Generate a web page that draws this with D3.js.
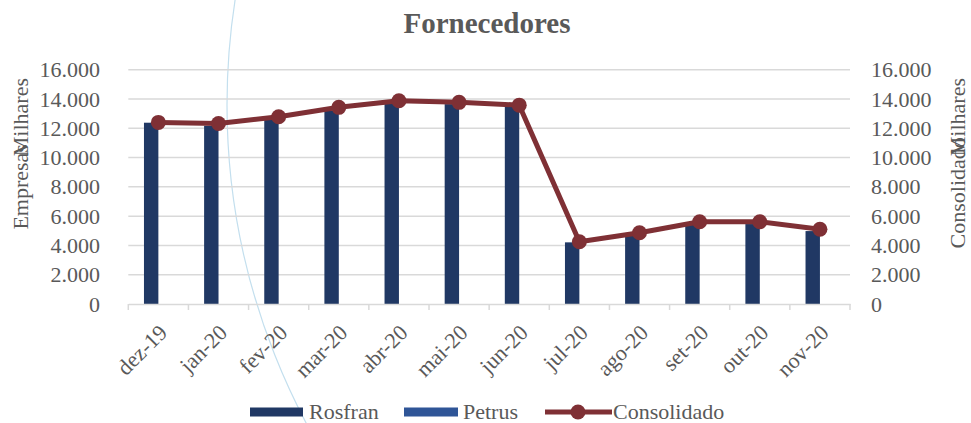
<!DOCTYPE html>
<html><head><meta charset="utf-8">
<script src="https://cdn.jsdelivr.net/npm/d3@7"></script>
<style>body{margin:0;background:#fff}svg{display:block}text{font-family:"Liberation Serif","DejaVu Serif",serif;fill:#595959}</style>
</head><body><svg id="c" width="971" height="423"></svg>
<script>
const categories = ["dez-19","jan-20","fev-20","mar-20","abr-20","mai-20","jun-20","jul-20","ago-20","set-20","out-20","nov-20"];
const rosfran = [12380,12170,12600,13200,13700,13650,13470,4210,4710,5550,5460,4980];
const petrus = [0,0,0,0,0,0,0,0,0,0,0,0];
const consolidado = [12400,12330,12790,13430,13880,13770,13580,4250,4870,5620,5620,5100];
const yTicks = [0,2000,4000,6000,8000,10000,12000,14000,16000];
const seriesNames = ["Rosfran","Petrus"];
const colors = {Rosfran:"#203864", Petrus:"#2F5597", Consolidado:"#7F3035"};

const svg = d3.select("#c");
const L = 128.3, R = 850, T = 69.7, B = 304;
const FS = 22;
const x0 = d3.scaleBand().domain(categories).range([L,R]).padding(0);
const x1 = d3.scaleBand().domain(seriesNames).range([0,x0.bandwidth()]).paddingInner(0).paddingOuter(1.088);
const y = d3.scaleLinear().domain([0,16000]).range([B,T]);
const fmt = v => d3.format(",")(v).replace(/,/g,".");

// decorative arc
svg.append("circle").attr("cx",905).attr("cy",105).attr("r",678)
  .attr("fill","none").attr("stroke","#C3DFEE").attr("stroke-width",1.2);

// gridlines
svg.append("g").selectAll("line").data(yTicks.slice(1)).join("line")
  .attr("x1",L).attr("x2",R).attr("y1",d=>y(d)).attr("y2",d=>y(d))
  .attr("stroke","#D9D9D9").attr("stroke-width",1.5);

// bars
const g = svg.append("g");
categories.forEach((c,i)=>{
  [["Rosfran",rosfran[i]],["Petrus",petrus[i]]].forEach(([s,v])=>{
    if(v<=0) return;
    g.append("rect").attr("x",x0(c)+x1(s)).attr("width",x1.bandwidth())
      .attr("y",y(v)).attr("height",y(0)-y(v)).attr("fill",colors[s]);
  });
});

// x axis
const xa = d3.axisBottom(x0).tickSize(0).tickFormat("");
const axg = svg.append("g").attr("transform",`translate(0,${B})`).call(xa);
axg.select(".domain").attr("stroke","#D9D9D9").attr("stroke-width",1.5);
const bounds = categories.map(c=>x0(c)).concat([R]);
svg.append("g").selectAll("line").data(bounds).join("line")
  .attr("x1",d=>d).attr("x2",d=>d).attr("y1",B).attr("y2",B+6)
  .attr("stroke","#D9D9D9").attr("stroke-width",1.5);
svg.append("g").selectAll("text").data(categories).join("text")
  .attr("transform",c=>`translate(${x0(c)+x0.bandwidth()/2-1},${B+19}) rotate(-45)`)
  .attr("text-anchor","end").attr("dy","0.71em").attr("font-size",FS).text(c=>c);

// y axes labels
const yl = d3.axisLeft(y).tickValues(yTicks).tickFormat(fmt).tickSize(0).tickPadding(0);
const gl = svg.append("g").attr("transform","translate(100,0)").call(yl);
gl.select(".domain").remove();
gl.selectAll("text").attr("font-size",FS).attr("font-family","Liberation Serif").attr("fill","#595959");
const yr = d3.axisRight(y).tickValues(yTicks).tickFormat(fmt).tickSize(0).tickPadding(0);
const gr = svg.append("g").attr("transform","translate(871,0)").call(yr);
gr.select(".domain").remove();
gr.selectAll("text").attr("font-size",FS).attr("font-family","Liberation Serif").attr("fill","#595959");

// line
const line = d3.line().x((d,i)=>x0(categories[i])+x0.bandwidth()/2).y(d=>y(d));
svg.append("path").datum(consolidado).attr("d",line).attr("fill","none")
  .attr("stroke",colors.Consolidado).attr("stroke-width",5).attr("stroke-linejoin","round");
svg.append("g").selectAll("circle").data(consolidado).join("circle")
  .attr("cx",(d,i)=>x0(categories[i])+x0.bandwidth()/2).attr("cy",d=>y(d)).attr("r",7.5)
  .attr("fill",colors.Consolidado);

// title
svg.append("text").attr("x",487).attr("y",33).attr("text-anchor","middle")
  .attr("font-size",29).attr("font-weight","bold").text("Fornecedores");

// axis titles
const mid = (T+B)/2;
svg.append("text").attr("transform",`translate(28,${mid}) rotate(-90)`).attr("text-anchor","middle")
  .attr("font-size",FS).text("Empresas");
svg.append("text").attr("transform",`translate(28,78) rotate(-90)`).attr("text-anchor","end")
  .attr("font-size",FS).text("Milhares");
svg.append("text").attr("transform",`translate(965,${mid+6}) rotate(-90)`).attr("text-anchor","middle")
  .attr("font-size",FS).text("Consolidado");
svg.append("text").attr("transform",`translate(965,78) rotate(-90)`).attr("text-anchor","end")
  .attr("font-size",FS).text("Milhares");

// legend
const ly = 412;
const lg = svg.append("g");
lg.append("rect").attr("x",250).attr("y",ly-4.5).attr("width",53).attr("height",9).attr("fill",colors.Rosfran);
lg.append("text").attr("x",309).attr("y",ly+7).attr("font-size",FS).text("Rosfran");
lg.append("rect").attr("x",404).attr("y",ly-4.5).attr("width",54).attr("height",9).attr("fill",colors.Petrus);
lg.append("text").attr("x",463).attr("y",ly+7).attr("font-size",FS).text("Petrus");
lg.append("line").attr("x1",545).attr("x2",612).attr("y1",ly).attr("y2",ly).attr("stroke",colors.Consolidado).attr("stroke-width",5);
lg.append("circle").attr("cx",578).attr("cy",ly).attr("r",7.5).attr("fill",colors.Consolidado);
lg.append("text").attr("x",613).attr("y",ly+7).attr("font-size",FS).text("Consolidado");
</script></body></html>
